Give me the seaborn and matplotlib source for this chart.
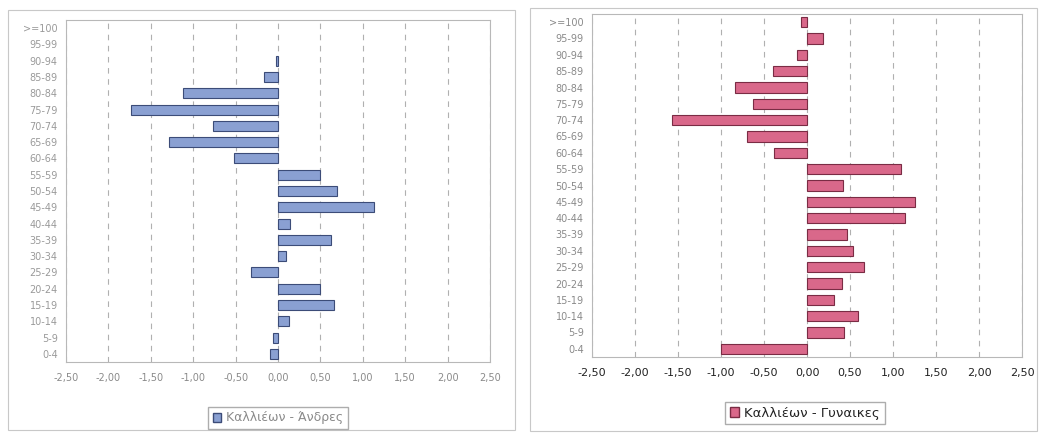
import matplotlib
matplotlib.use("Agg")
import matplotlib.pyplot as plt
import pandas as pd
import seaborn as sns
from matplotlib.patches import Patch, Rectangle
from matplotlib.ticker import FuncFormatter, MultipleLocator

# age groups, top to bottom
age_groups = [">=100", "95-99", "90-94", "85-89", "80-84", "75-79", "70-74",
              "65-69", "60-64", "55-59", "50-54", "45-49", "40-44", "35-39",
              "30-34", "25-29", "20-24", "15-19", "10-14", "5-9", "0-4"]

# no bar shown for the two oldest groups of men
men_values = [None, None, -0.02, -0.17, -1.12, -1.73, -0.77, -1.28, -0.52, 0.49,
              0.70, 1.13, 0.14, 0.62, 0.10, -0.32, 0.50, 0.66, 0.13, -0.06, -0.10]

women_values = [-0.07, 0.19, -0.12, -0.39, -0.84, -0.63, -1.57, -0.70, -0.38, 1.09,
                0.42, 1.26, 1.14, 0.46, 0.54, 0.66, 0.41, 0.31, 0.59, 0.43, -1.00]

men_label = "Καλλιέων - Άνδρες"
women_label = "Καλλιέων - Γυναικες"

sns.set_style("white")
plt.rcParams['font.family'] = ['DejaVu Sans']

W, H = 1039, 433
fig = plt.figure(figsize=(W / 100, H / 100), dpi=100)


def px_axes(x0, y0, x1, y1):
    return fig.add_axes([x0 / W, 1 - y1 / H, (x1 - x0) / W, (y1 - y0) / H])


def comma(v, _):
    return f"{v:.2f}".replace(".", ",")


def draw_panel(ax, values, label, fill, edge, ytxt, xtxt, xsize, leg_xy, leg_size):
    df = pd.DataFrame({"age": age_groups, "value": pd.to_numeric(values)})
    sns.barplot(data=df, x="value", y="age", orient="h", color=fill,
                edgecolor=edge, linewidth=0.8, width=0.62, saturation=1, ax=ax)
    ax.set_xlim(-2.5, 2.5)
    ax.xaxis.set_major_locator(MultipleLocator(0.5))
    ax.xaxis.set_major_formatter(FuncFormatter(comma))
    ax.set_xlabel("")
    ax.set_ylabel("")
    ax.grid(axis="x", color="#b0b0b0", linestyle=(0, (5, 5)), linewidth=0.8)
    ax.set_axisbelow(True)
    for s in ax.spines.values():
        s.set_color("#b8b8b8")
        s.set_linewidth(0.8)
    ax.tick_params(axis="y", labelsize=7, colors=ytxt, length=0, pad=6)
    ax.tick_params(axis="x", labelsize=xsize, colors=xtxt, length=0, pad=8)
    fig.legend(handles=[Patch(facecolor=fill, edgecolor=edge, label=label)],
               loc="center", bbox_to_anchor=(leg_xy[0] / W, 1 - leg_xy[1] / H),
               fontsize=leg_size, frameon=True, fancybox=False, edgecolor="#999999",
               handlelength=0.7, handleheight=0.7, handletextpad=0.4,
               borderpad=0.35, labelcolor=xtxt)


# panel frames
fig.add_artist(Rectangle((8 / W, 1 - 430 / H), 507 / W, 420 / H, transform=fig.transFigure,
                         fill=False, edgecolor="#c8c8c8", linewidth=0.8))
fig.add_artist(Rectangle((530 / W, 1 - 431 / H), 507 / W, 423 / H, transform=fig.transFigure,
                         fill=False, edgecolor="#c8c8c8", linewidth=0.8))

ax_men = px_axes(66, 20, 490, 362)
draw_panel(ax_men, men_values, men_label, "#8aa0d2", "#3c4c78",
           "#9a9a9a", "#8a8a8a", 7, (278, 418), 9)

ax_women = px_axes(592, 14, 1022, 357)
draw_panel(ax_women, women_values, women_label, "#d9688a", "#7a2c44",
           "#8a8a8a", "#222222", 8, (805, 413), 9.5)

fig.savefig("out.png", dpi=100, facecolor="white")
